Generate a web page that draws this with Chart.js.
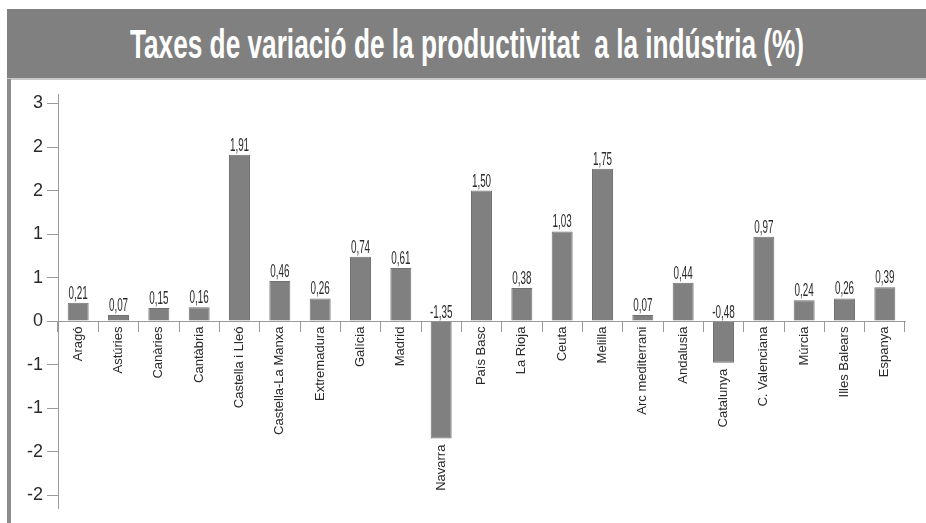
<!DOCTYPE html>
<html>
<head>
<meta charset="utf-8">
<script src="https://cdn.jsdelivr.net/npm/chart.js@4"></script>
<style>
  body { margin: 0; width: 926px; height: 523px; background: #fff; position: relative; overflow: hidden; font-family: "Liberation Sans", Arial, sans-serif; }
  #band { position: absolute; left: 7px; top: 9px; right: 0; height: 69px; background: #808080; border-bottom: 2px solid #c9c9c9; }
  #band span { position: absolute; left: 50%; top: 50%; white-space: pre; color: #fff; font-weight: bold; font-size: 41px; }
  #edge { position: absolute; left: 7px; top: 79px; width: 4px; bottom: 0; background: #8c8c8c; }
  #wrap { position: absolute; left: 0; top: 80px; width: 926px; height: 443px; }
</style>
</head>
<body>
<div id="band"><span id="title">Taxes de variació de la productivitat  a la indústria (%)</span></div>
<div id="edge"></div>
<div id="wrap"><canvas id="prodChart"></canvas></div>
<script>
const categories = ['Aragó', 'Astúries', 'Canàries', 'Cantàbria', 'Castella i Lleó', 'Castella-La Manxa',
    'Extremadura', 'Galícia', 'Madrid', 'Navarra', 'País Basc', 'La Rioja', 'Ceuta', 'Melilla',
    'Arc mediterrani', 'Andalusia', 'Catalunya', 'C. Valenciana', 'Múrcia', 'Illes Balears', 'Espanya'];
const values = [0.21, 0.07, 0.15, 0.16, 1.91, 0.46, 0.26, 0.74, 0.61, -1.35, 1.50, 0.38, 1.03, 1.75,
    0.07, 0.44, -0.48, 0.97, 0.24, 0.26, 0.39];
const yTickValues = [-2, -1.5, -1, -0.5, 0, 0.5, 1, 1.5, 2, 2.5];
const yTickLabels = ['-2', '-2', '-1', '-1', '0', '1', '1', '2', '2', '3'];

// squeeze the title to the width of the original
const t = document.getElementById('title');
const sx = 674 / t.offsetWidth;
t.style.transform = 'translate(-50%, -50%) scaleX(' + sx + ')';

const axisGrey = '#9a9a9a';

// value labels above bars and rotated region names under them
const barLabels = {
    id: 'barLabels',
    afterDatasetsDraw(chart) {
        const ctx = chart.ctx;
        const meta = chart.getDatasetMeta(0);
        ctx.save();
        ctx.fillStyle = '#2a2a2a';
        meta.data.forEach((bar, i) => {
            const v = values[i];
            const top = Math.min(bar.y, bar.base);
            const bottom = Math.max(bar.y, bar.base);
            // value
            ctx.save();
            ctx.translate(bar.x, top - 4);
            ctx.scale(0.52, 1);
            ctx.font = '19px "Liberation Sans", Arial, sans-serif';
            ctx.textAlign = 'center';
            ctx.textBaseline = 'alphabetic';
            ctx.fillText(v.toFixed(2).replace('.', ','), 0, 0);
            ctx.restore();
            // category name
            ctx.save();
            ctx.translate(bar.x, bottom + 6);
            ctx.scale(0.95, 1);
            ctx.rotate(-Math.PI / 2);
            ctx.font = '13px "Liberation Sans", Arial, sans-serif';
            ctx.textAlign = 'right';
            ctx.textBaseline = 'middle';
            ctx.fillText(categories[i], 0, 0);
            ctx.restore();
        });
        ctx.restore();
    }
};

const ctx = document.getElementById('prodChart').getContext('2d');
const prodChart = new Chart(ctx, {
    type: 'bar',
    data: {
        labels: categories,
        datasets: [{
            data: values,
            backgroundColor: '#808080',
            borderColor: '#707070',
            borderWidth: 1,
            barPercentage: 0.52,
            categoryPercentage: 1
        }]
    },
    options: {
        responsive: true,
        maintainAspectRatio: false,
        animation: false,
        layout: {
            padding: { top: 12, right: 21, bottom: 10, left: 0 }
        },
        scales: {
            x: {
                type: 'category',
                position: { y: 0 },
                afterFit: (s) => { s.height = 0; },
                ticks: { display: false },
                grid: {
                    offset: true,
                    drawOnChartArea: false,
                    tickLength: 10,
                    color: axisGrey
                },
                border: { color: axisGrey }
            },
            y: {
                min: -2.15,
                max: 2.6,
                afterFit: (s) => { s.width = 58; },
                afterBuildTicks: (s) => { s.ticks = yTickValues.map(v => ({ value: v })); },
                ticks: {
                    padding: 4,
                    color: '#2a2a2a',
                    font: { family: '"Liberation Sans Narrow", "Liberation Sans", sans-serif', size: 18 },
                    callback: (v, i) => yTickLabels[i]
                },
                grid: {
                    drawOnChartArea: false,
                    tickLength: 11,
                    color: axisGrey
                },
                border: { color: axisGrey }
            }
        },
        plugins: {
            legend: { display: false },
            tooltip: { enabled: false }
        }
    },
    plugins: [barLabels]
});
</script>
</body>
</html>
